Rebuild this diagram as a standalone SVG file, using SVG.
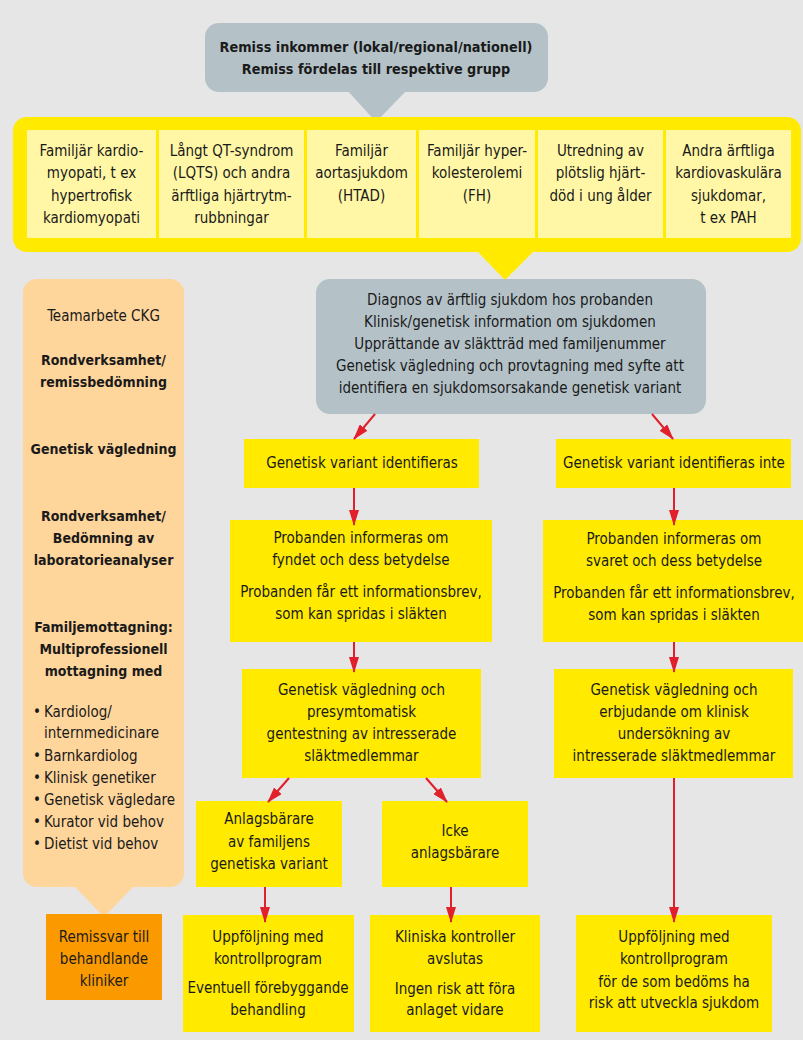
<svg xmlns="http://www.w3.org/2000/svg" width="803" height="1040" viewBox="0 0 803 1040">
<defs>
<style>
text{font-family:"Liberation Sans Narrow","DejaVu Sans Condensed","Liberation Sans",sans-serif;font-size:15px;fill:#1a1a1a;text-anchor:middle}
.b{font-weight:bold;font-size:14px}
.t{font-weight:bold;font-size:14.3px}
.s{text-anchor:start}
.grey{fill:#b4c2c8}
.yel{fill:#ffea00}
.cell{fill:#fff7a6}
.pan{fill:#fed59b}
.org{fill:#fa9a00}
.ar{stroke:#e0202a;stroke-width:2;fill:none;marker-end:url(#ah)}
</style>
<marker id="ah" viewBox="0 0 16 10" refX="15" refY="5" markerWidth="16" markerHeight="10" markerUnits="userSpaceOnUse" orient="auto">
<path d="M0,0 L16,5 L0,10 z" fill="#e0202a"/>
</marker>
</defs>
<rect width="803" height="1040" fill="#e6e6e6"/>

<g id="remiss">
<rect class="grey" x="205" y="23" width="343" height="69" rx="14"/>
<polygon class="grey" points="347,90 407,90 376,122"/>
<text class="t" x="376" y="52">Remiss inkommer (lokal/regional/nationell)</text>
<text class="t" x="376" y="74">Remiss fördelas till respektive grupp</text>
</g>

<g id="grupper">
<rect class="yel" x="13" y="117" width="788" height="135" rx="14"/>
<polygon class="yel" points="476,250 535,250 505,280"/>
<rect class="cell" x="27" y="130" width="129" height="108"/>
<rect class="cell" x="159" y="130" width="145" height="108"/>
<rect class="cell" x="307" y="130" width="109" height="108"/>
<rect class="cell" x="419" y="130" width="116" height="108"/>
<rect class="cell" x="538" y="130" width="125" height="108"/>
<rect class="cell" x="666" y="130" width="125" height="108"/>
<text x="91.5" y="155.5">Familjär kardio-</text>
<text x="91.5" y="178">myopati, t ex</text>
<text x="91.5" y="200.5">hypertrofisk</text>
<text x="91.5" y="222.5">kardiomyopati</text>
<text x="231.5" y="155.5">Långt QT-syndrom</text>
<text x="231.5" y="178">(LQTS) och andra</text>
<text x="231.5" y="200.5">ärftliga hjärtrytm-</text>
<text x="231.5" y="222.5">rubbningar</text>
<text x="361.5" y="155.5">Familjär</text>
<text x="361.5" y="178">aortasjukdom</text>
<text x="361.5" y="200.5">(HTAD)</text>
<text x="477" y="155.5">Familjär hyper-</text>
<text x="477" y="178">kolesterolemi</text>
<text x="477" y="200.5">(FH)</text>
<text x="600.5" y="155.5">Utredning av</text>
<text x="600.5" y="178">plötslig hjärt-</text>
<text x="600.5" y="200.5">död i ung ålder</text>
<text x="728.5" y="155.5">Andra ärftliga</text>
<text x="728.5" y="178">kardiovaskulära</text>
<text x="728.5" y="200.5">sjukdomar,</text>
<text x="728.5" y="222.5">t ex PAH</text>
</g>

<g id="diagnos">
<rect class="grey" x="316" y="279" width="390" height="135" rx="14"/>
<text x="510" y="304.5">Diagnos av ärftlig sjukdom hos probanden</text>
<text x="510" y="326.5">Klinisk/genetisk information om sjukdomen</text>
<text x="510" y="348.5">Upprättande av släktträd med familjenummer</text>
<text x="510" y="370.5">Genetisk vägledning och provtagning med syfte att</text>
<text x="510" y="392.5">identifiera en sjukdomsorsakande genetisk variant</text>
</g>

<g id="team">
<rect class="pan" x="23" y="279" width="161" height="608" rx="14"/>
<polygon class="pan" points="73,885 135,885 104,917"/>
<text x="103.5" y="321">Teamarbete CKG</text>
<text class="b" x="103.5" y="365">Rondverksamhet/</text>
<text class="b" x="103.5" y="387">remissbedömning</text>
<text class="b" x="103.5" y="454">Genetisk vägledning</text>
<text class="b" x="103.5" y="521">Rondverksamhet/</text>
<text class="b" x="103.5" y="543">Bedömning av</text>
<text class="b" x="103.5" y="565">laboratorieanalyser</text>
<text class="b" x="103.5" y="632">Familjemottagning:</text>
<text class="b" x="103.5" y="654">Multiprofessionell</text>
<text class="b" x="103.5" y="676">mottagning med</text>
<text x="37" y="717">•</text><text class="s" x="44" y="717">Kardiolog/</text>
<text class="s" x="44" y="738">internmedicinare</text>
<text x="37" y="761">•</text><text class="s" x="44" y="761">Barnkardiolog</text>
<text x="37" y="783">•</text><text class="s" x="44" y="783">Klinisk genetiker</text>
<text x="37" y="805">•</text><text class="s" x="44" y="805">Genetisk vägledare</text>
<text x="37" y="827">•</text><text class="s" x="44" y="827">Kurator vid behov</text>
<text x="37" y="849">•</text><text class="s" x="44" y="849">Dietist vid behov</text>
</g>

<g id="remissvar">
<rect class="org" x="46" y="914" width="116" height="86"/>
<text x="104" y="942">Remissvar till</text>
<text x="104" y="964">behandlande</text>
<text x="104" y="986">kliniker</text>
</g>

<g id="variant-ja">
<rect class="yel" x="244" y="439" width="235" height="49"/>
<text x="362" y="468">Genetisk variant identifieras</text>
</g>
<g id="variant-nej">
<rect class="yel" x="556" y="439" width="235" height="49"/>
<text x="674" y="468">Genetisk variant identifieras inte</text>
</g>

<g id="proband-ja">
<rect class="yel" x="230" y="520" width="262" height="122"/>
<text x="361" y="543">Probanden informeras om</text>
<text x="361" y="565">fyndet och dess betydelse</text>
<text x="361" y="597">Probanden får ett informationsbrev,</text>
<text x="361" y="619">som kan spridas i släkten</text>
</g>
<g id="proband-nej">
<rect class="yel" x="543" y="520" width="262" height="122"/>
<text x="674" y="544">Probanden informeras om</text>
<text x="674" y="566">svaret och dess betydelse</text>
<text x="674" y="598">Probanden får ett informationsbrev,</text>
<text x="674" y="620">som kan spridas i släkten</text>
</g>

<g id="vagledning-ja">
<rect class="yel" x="242" y="669" width="239" height="109"/>
<text x="361.5" y="694.5">Genetisk vägledning och</text>
<text x="361.5" y="716.5">presymtomatisk</text>
<text x="361.5" y="738.5">gentestning av intresserade</text>
<text x="361.5" y="760.5">släktmedlemmar</text>
</g>
<g id="vagledning-nej">
<rect class="yel" x="554" y="669" width="239" height="109"/>
<text x="674" y="694.5">Genetisk vägledning och</text>
<text x="674" y="716.5">erbjudande om klinisk</text>
<text x="674" y="738.5">undersökning av</text>
<text x="674" y="760.5">intresserade släktmedlemmar</text>
</g>

<g id="anlagsbarare">
<rect class="yel" x="196" y="801" width="146" height="86"/>
<text x="269" y="824">Anlagsbärare</text>
<text x="269" y="847">av familjens</text>
<text x="269" y="869">genetiska variant</text>
</g>
<g id="icke">
<rect class="yel" x="382" y="801" width="146" height="86"/>
<text x="455" y="836">Icke</text>
<text x="455" y="858">anlagsbärare</text>
</g>

<g id="uppfoljning-ja">
<rect class="yel" x="183" y="915" width="171" height="117"/>
<text x="268" y="942">Uppföljning med</text>
<text x="268" y="964">kontrollprogram</text>
<text x="268" y="993">Eventuell förebyggande</text>
<text x="268" y="1015">behandling</text>
</g>
<g id="kliniska">
<rect class="yel" x="370" y="915" width="170" height="117"/>
<text x="455" y="942">Kliniska kontroller</text>
<text x="455" y="964">avslutas</text>
<text x="455" y="994">Ingen risk att föra</text>
<text x="455" y="1015">anlaget vidare</text>
</g>
<g id="uppfoljning-nej">
<rect class="yel" x="576" y="915" width="196" height="117"/>
<text x="674" y="942">Uppföljning med</text>
<text x="674" y="964">kontrollprogram</text>
<text x="674" y="987">för de som bedöms ha</text>
<text x="674" y="1008">risk att utveckla sjukdom</text>
</g>

<g id="connectors">
<line class="ar" x1="375" y1="414" x2="354" y2="439"/>
<line class="ar" x1="652" y1="414" x2="673" y2="439"/>
<line class="ar" x1="354" y1="488" x2="354" y2="525"/>
<line class="ar" x1="674" y1="488" x2="674" y2="525"/>
<line class="ar" x1="354" y1="642" x2="354" y2="672"/>
<line class="ar" x1="674" y1="642" x2="674" y2="672"/>
<line class="ar" x1="289" y1="778" x2="268" y2="802"/>
<line class="ar" x1="426" y1="778" x2="447" y2="802"/>
<line class="ar" x1="265" y1="887" x2="265" y2="922"/>
<line class="ar" x1="451" y1="887" x2="451" y2="922"/>
<line class="ar" x1="674" y1="778" x2="674" y2="922"/>
</g>
</svg>
